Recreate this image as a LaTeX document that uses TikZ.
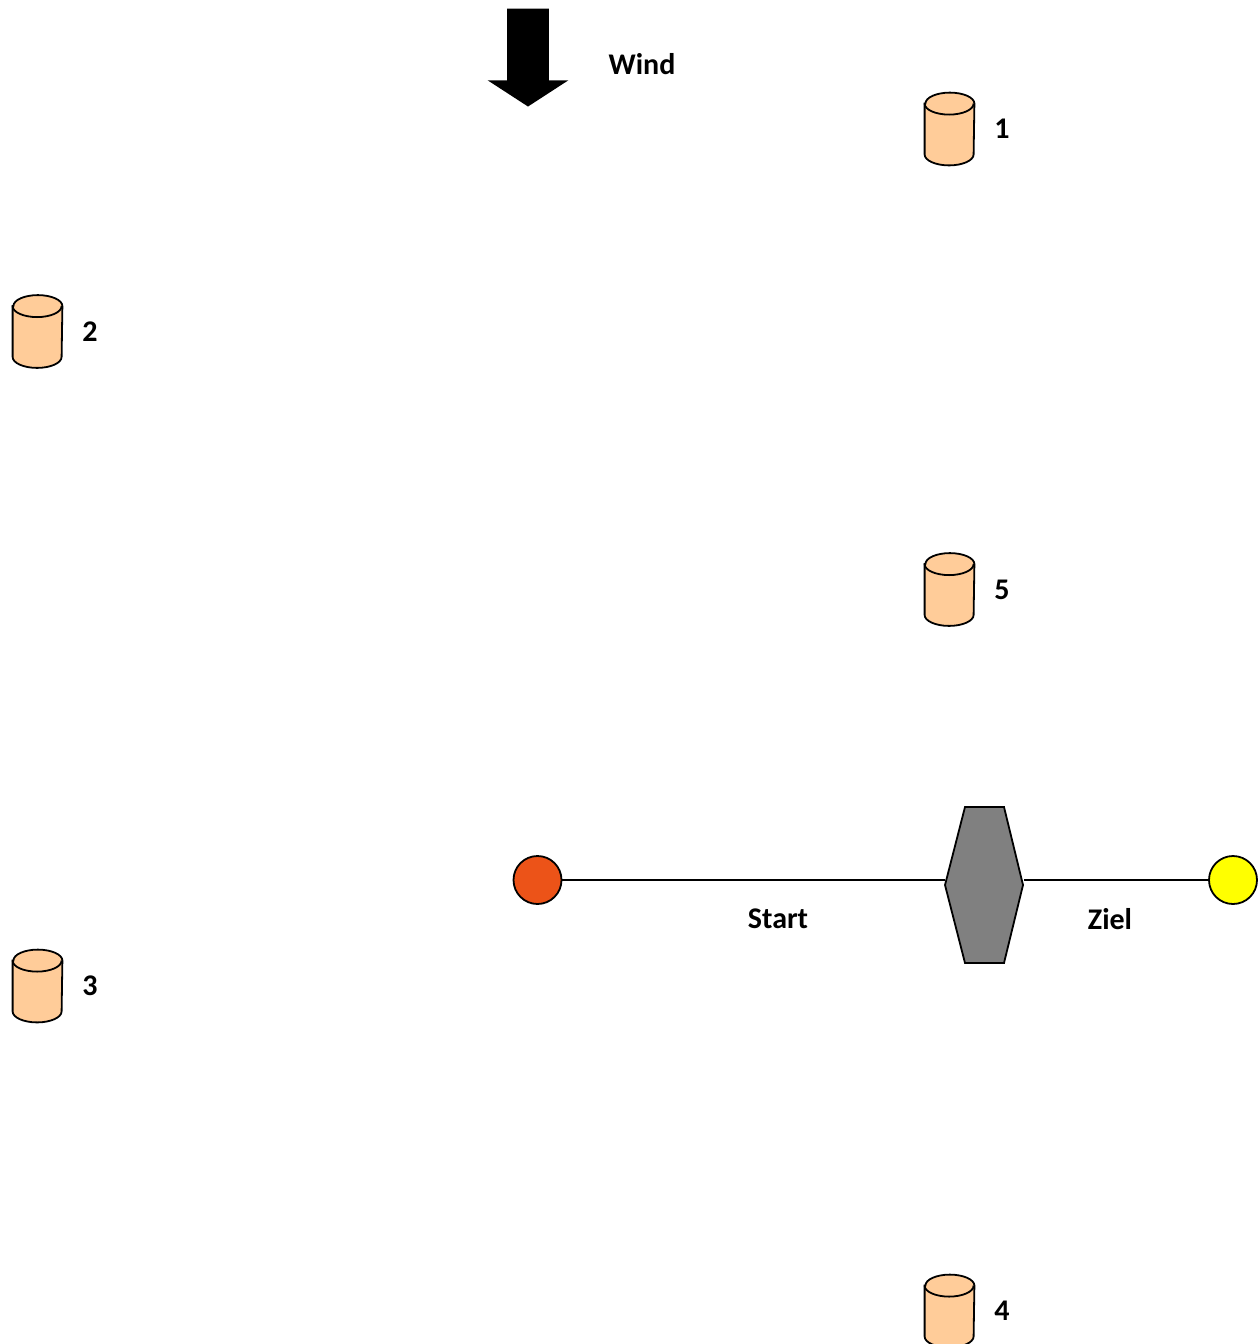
\documentclass[tikz,border=0pt]{standalone}
\usepackage{fontspec}
\setmainfont{Carlito}
\usepackage{xcolor}
\usepackage{tikz}
\usetikzlibrary{positioning,shapes.geometric,shapes.arrows}
\definecolor{buoyfill}{HTML}{FFCC99}
\definecolor{startred}{HTML}{EC5318}
\definecolor{finishyellow}{HTML}{FFFF00}
\definecolor{markgray}{HTML}{808080}

\begin{document}
\begin{tikzpicture}[x=0.5pt,y=-0.5pt,
  buoy/.style={minimum width=24.5pt,minimum height=36pt,inner sep=0pt},
  buoyline/.style={draw,line width=0.9pt,fill=buoyfill},
  buoylabel/.style={font=\bfseries\fontsize{15}{18}\selectfont},
  tag/.style={font=\bfseries\fontsize{15}{18}\selectfont},
  flag/.style={circle,draw,line width=0.9pt,minimum size=24pt,inner sep=0pt},
  markbox/.style={minimum width=39pt,minimum height=78pt,inner sep=0pt},
  windarrow/.style={single arrow,fill=black,shape border rotate=270,minimum height=49pt,inner sep=10.25pt,single arrow head extend=9.75pt,single arrow tip angle=114,single arrow head indent=0pt},
  node distance=6.5pt]
\useasboundingbox (0,0) rectangle (1258,1344);
% wind
\node[windarrow,anchor=tip] (wind) at (528,107) {};
\node[tag] (windtag) at (642,64) {Wind};
% buoys
\node[buoy] (b1) at (949.5,129) {};
\node[buoy] (b2) at (37.5,331.5) {};
\node[buoy] (b3) at (37.5,986) {};
\node[buoy] (b5) at (949.5,589.5) {};
\node[buoy] (b4) at (949.5,1311) {};
\foreach \b/\t in {b1/1,b2/2,b3/3,b4/4,b5/5} {
  \draw[buoyline] ([yshift=-5.5pt]\b.north west) -- ([yshift=5.5pt]\b.south west)
    arc[start angle=180,end angle=360,x radius=12.25pt,y radius=5.5pt]
    -- ([yshift=-5.5pt]\b.north east)
    arc[start angle=0,end angle=180,x radius=12.25pt,y radius=5.5pt] -- cycle;
  \draw[line width=0.9pt] ([yshift=-5.5pt]\b.north west)
    arc[start angle=180,end angle=360,x radius=12.25pt,y radius=5.5pt];
  \node[buoylabel,right=of \b] (l\t) {\t};
}
% start and finish line
\node[flag,fill=startred] (start) at (537.5,880) {};
\node[flag,fill=finishyellow] (finish) at (1233,880) {};
\node[markbox] (mark) at (984.5,885) {};
\draw[line width=0.9pt] (start) -- (start -| mark.west);
\draw[line width=0.9pt] (finish) -- (finish -| mark.east);
\draw[line width=0.9pt,fill=markgray,shift={(mark)}] (-19.5,-78) -- (19.5,-78) -- (38.5,0) -- (19.5,78) -- (-19.5,78) -- (-39.5,0) -- cycle;
\node[tag] (starttag) at (778,919) {Start};
\node[tag] (finishtag) at (1110,919) {Ziel};
\end{tikzpicture}
\end{document}
